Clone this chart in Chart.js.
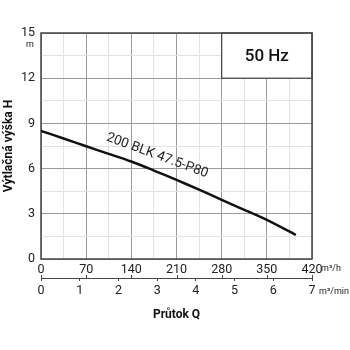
<!DOCTYPE html>
<html lang="en">
<head>
  <meta charset="UTF-8">
  <title>Pump curve</title>
  <script src="https://cdn.jsdelivr.net/npm/chart.js"></script>
  <style>
    html, body { margin: 0; padding: 0; background: #fff; }
    .chart-container { width: 350px; height: 350px; }
  </style>
</head>
<body>
<div class="chart-container">
  <canvas id="pump-chart" width="350" height="350"></canvas>
</div>

<script>
// Curve data
const flowM3h = [0, 35, 70, 105, 140, 175, 210, 245, 280, 315, 350, 395];
const headM = [8.5, 8.0, 7.48, 6.98, 6.47, 5.87, 5.25, 4.6, 3.93, 3.26, 2.6, 1.6];
const curveName = '200 BLK 47.5-P80';
const freqLabel = '50 Hz';
const yTitle = 'Výtlačná výška H';
const xTitle = 'Průtok Q';

const FONT = 'Roboto';
const MAJOR = '#9a9a9a';
const MINOR = '#e2e2e2';
const FRAME = '#444';

// extra drawing: frame, 50 Hz box, units, upper ticks, curve label
const extras = {
  id: 'extras',
  beforeDatasetsDraw(chart) {
    const { ctx, chartArea: a, scales } = chart;
    const x = scales.x, y = scales.y;
    ctx.save();
    // 50 Hz box
    const bx = x.getPixelForValue(280), by = y.getPixelForValue(12);
    ctx.fillStyle = '#fff';
    ctx.fillRect(bx, a.top, a.right - bx, by - a.top);
    ctx.strokeStyle = FRAME;
    ctx.lineWidth = 1.2;
    ctx.strokeRect(bx, a.top, a.right - bx, by - a.top);
    ctx.fillStyle = '#111';
    ctx.font = '500 17px ' + FONT;
    ctx.textAlign = 'center';
    ctx.textBaseline = 'middle';
    ctx.fillText(freqLabel, (bx + a.right) / 2, (a.top + by) / 2 + 1);
    // frame
    ctx.strokeStyle = FRAME;
    ctx.lineWidth = 1.5;
    ctx.strokeRect(a.left, a.top, a.right - a.left, a.bottom - a.top);
    ctx.restore();
  },
  afterDraw(chart) {
    const { ctx, chartArea: a, scales } = chart;
    const x = scales.x, x2 = scales.x2, y = scales.y;
    ctx.save();
    // upward ticks on the m3/min line for m3/h positions
    ctx.strokeStyle = FRAME;
    ctx.lineWidth = 1;
    for (let v = 0; v <= 420; v += 70) {
      const px = Math.round(x.getPixelForValue(v)) + 0.5;
      ctx.beginPath();
      ctx.moveTo(px, x2.top);
      ctx.lineTo(px, x2.top - 3);
      ctx.stroke();
    }
    // units
    ctx.fillStyle = '#222';
    ctx.font = '9px ' + FONT;
    ctx.textAlign = 'left';
    ctx.textBaseline = 'middle';
    ctx.fillText('m³/h', a.right + 9, x.top + 10);
    ctx.fillText('m³/min', a.right + 7, x2.top + 14);
    ctx.textAlign = 'center';
    ctx.fillText('m', y.left + 30, y.getPixelForValue(15) + 12);
    // curve label along the line
    const p1 = { x: x.getPixelForValue(105), y: y.getPixelForValue(headM[3]) };
    const p2 = { x: x.getPixelForValue(245), y: y.getPixelForValue(headM[7]) };
    const ang = Math.atan2(p2.y - p1.y, p2.x - p1.x) - 0.025;
    const cx = x.getPixelForValue(172) + 15 * Math.sin(ang);
    const cy = y.getPixelForValue(5.92) - 15 * Math.cos(ang);
    ctx.translate(cx, cy);
    ctx.rotate(ang);
    ctx.font = '13.5px ' + FONT;
    ctx.fillStyle = '#222';
    ctx.textAlign = 'center';
    ctx.textBaseline = 'middle';
    ctx.fillText(curveName, 0, 0);
    ctx.restore();
  }
};

const ctx = document.getElementById('pump-chart').getContext('2d');
const pumpChart = new Chart(ctx, {
  type: 'line',
  data: {
    datasets: [{
      data: flowM3h.map((q, i) => ({ x: q, y: headM[i] })),
      borderColor: '#111',
      borderWidth: 2.5,
      pointRadius: 0,
      tension: 0.3,
      fill: false
    }]
  },
  options: {
    responsive: false,
    animation: false,
    layout: { padding: { left: 0, right: 38, top: 33, bottom: 22 } },
    plugins: { legend: { display: false }, tooltip: { enabled: false } },
    scales: {
      x: {
        type: 'linear',
        position: 'bottom',
        min: 0, max: 420,
        afterFit: (s) => { s.height = 19; },
        border: { display: false },
        grid: {
          drawTicks: false,
          color: (c) => (c.tick && c.tick.value % 70 === 0 ? MAJOR : MINOR),
          lineWidth: 1
        },
        ticks: {
          stepSize: 35,
          autoSkip: false,
          maxRotation: 0,
          padding: 3,
          color: '#222',
          font: { family: FONT, size: 12.5 },
          callback: (v) => (v % 70 === 0 ? v : '')
        }
      },
      x2: {
        type: 'linear',
        position: 'bottom',
        min: 0, max: 7,
        afterFit: (s) => { s.height = 50; },
        border: { display: true, color: FRAME, width: 1 },
        grid: { drawOnChartArea: false, drawTicks: true, tickLength: 3, color: FRAME },
        ticks: {
          stepSize: 1,
          maxRotation: 0,
          padding: 2,
          color: '#222',
          font: { family: FONT, size: 12.5 }
        },
        title: {
          display: true,
          text: xTitle,
          color: '#111',
          font: { family: FONT, size: 12, weight: 'bold' },
          padding: { top: 0, bottom: 6 }
        }
      },
      y: {
        type: 'linear',
        min: 0, max: 15,
        afterFit: (s) => { s.width = 41; },
        border: { display: false },
        grid: {
          drawTicks: false,
          color: (c) => (c.tick && c.tick.value % 3 === 0 ? MAJOR : MINOR),
          lineWidth: 1
        },
        ticks: {
          stepSize: 1.5,
          autoSkip: false,
          padding: 6,
          color: '#222',
          font: { family: FONT, size: 12.5 },
          callback: (v) => (v % 3 === 0 ? v : '')
        },
        title: {
          display: true,
          text: yTitle,
          color: '#111',
          font: { family: FONT, size: 12, weight: 'bold' },
          padding: { top: 2, bottom: 0 }
        }
      }
    }
  },
  plugins: [extras]
});
</script>
</body>
</html>
